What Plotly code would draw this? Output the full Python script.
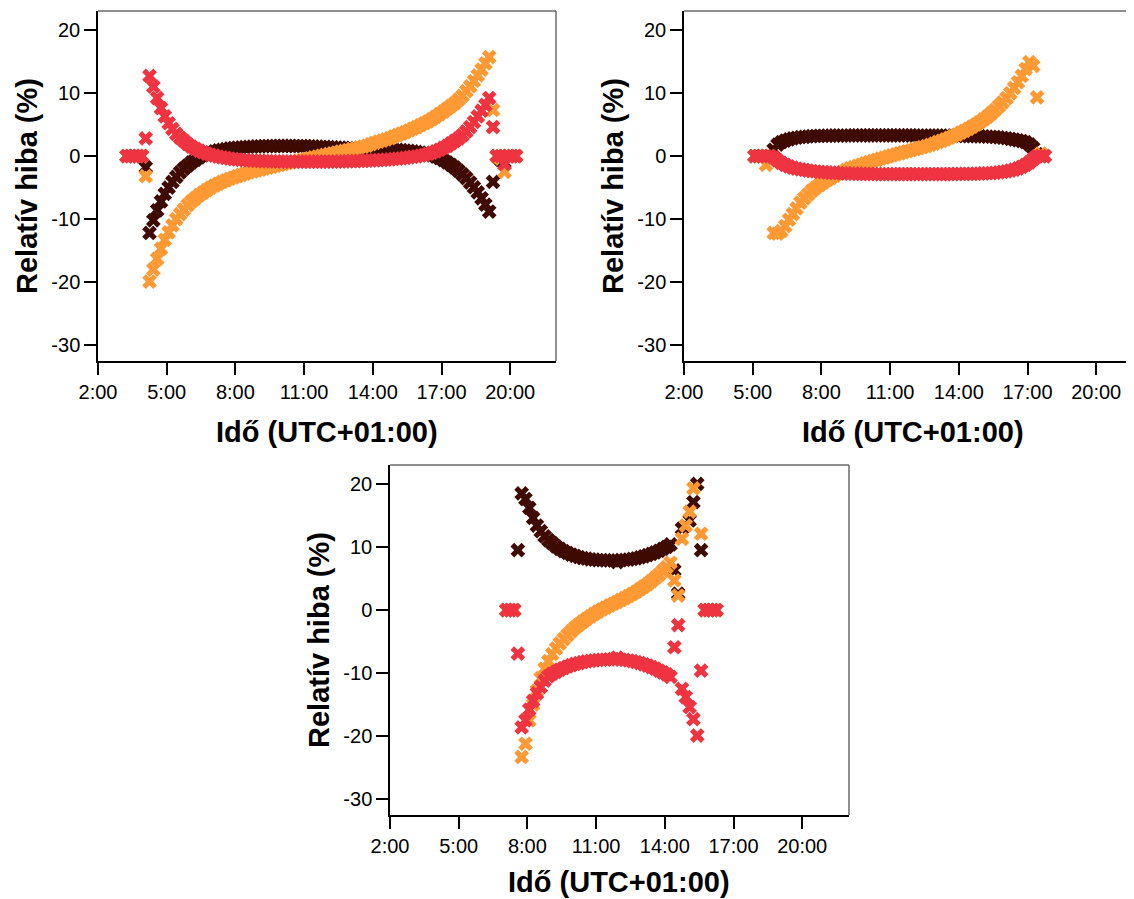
import plotly.graph_objects as go
import pandas as pd

COL_DARK = "#3f0a00"
COL_ORANGE = "#ff9933"
COL_RED = "#ef3340"

# ---------------- top-left panel (10-minute samples from 04:15) ----------------
tl_start = "04:15"
tl_dark = [-12.2, -10.2, -8.6, -7.2, -6.0, -5.0, -4.1, -3.3, -2.6, -2.0,
           -1.5, -1.0, -0.6, -0.2, 0.1, 0.35, 0.55, 0.75, 0.9, 1.0,
           1.1, 1.2, 1.27, 1.33, 1.38, 1.42, 1.46, 1.49, 1.52, 1.54,
           1.56, 1.57, 1.58, 1.59, 1.6, 1.6, 1.6, 1.6, 1.59, 1.58,
           1.57, 1.56, 1.54, 1.52, 1.5, 1.47, 1.44, 1.41, 1.38, 1.35,
           1.32, 1.29, 1.26, 1.23, 1.2, 1.18, 1.16, 1.14, 1.12, 1.1,
           1.08, 1.06, 1.04, 1.02, 1.0, 0.97, 0.93, 0.88, 0.82, 0.75,
           0.66, 0.55, 0.42, 0.27, 0.1, -0.1, -0.35, -0.65, -1.0, -1.4,
           -1.85, -2.35, -2.9, -3.5, -4.2, -4.95, -5.75, -6.7, -7.7, -8.8]
tl_orange = [-19.9, -18.0, -16.3, -14.7, -13.3, -12.1, -11.0, -10.0, -9.2, -8.5,
             -7.8, -7.2, -6.7, -6.2, -5.8, -5.4, -5.0, -4.7, -4.4, -4.1,
             -3.85, -3.6, -3.4, -3.2, -3.0, -2.8, -2.6, -2.45, -2.3, -2.15,
             -2.0, -1.85, -1.7, -1.55, -1.4, -1.27, -1.14, -1.0, -0.87, -0.74,
             -0.61, -0.48, -0.35, -0.22, -0.09, 0.04, 0.17, 0.3, 0.43, 0.56,
             0.69, 0.82, 0.95, 1.08, 1.22, 1.36, 1.5, 1.65, 1.9, 2.1,
             2.3, 2.45, 2.65, 2.85, 3.1, 3.3, 3.55, 3.8, 4.05, 4.35,
             4.6, 4.9, 5.2, 5.5, 5.85, 6.25, 6.65, 7.05, 7.5, 7.95,
             8.4, 8.95, 9.55, 10.3, 11.05, 11.9, 12.8, 13.7, 14.7, 15.7]
tl_red = [12.7, 11.0, 9.2, 7.6, 6.3, 5.2, 4.3, 3.5, 2.9, 2.4,
          1.9, 1.5, 1.15, 0.85, 0.6, 0.4, 0.2, 0.05, -0.1, -0.2,
          -0.3, -0.4, -0.5, -0.55, -0.6, -0.65, -0.7, -0.72, -0.75, -0.78,
          -0.8, -0.82, -0.84, -0.85, -0.86, -0.87, -0.88, -0.88, -0.89, -0.89,
          -0.9, -0.9, -0.9, -0.9, -0.9, -0.9, -0.89, -0.89, -0.88, -0.87,
          -0.86, -0.85, -0.84, -0.82, -0.8, -0.78, -0.75, -0.72, -0.7, -0.67,
          -0.64, -0.6, -0.56, -0.52, -0.47, -0.42, -0.36, -0.3, -0.22, -0.14,
          -0.05, 0.05, 0.2, 0.35, 0.55, 0.75, 1.0, 1.3, 1.6, 2.0,
          2.4, 2.8, 3.3, 3.9, 4.6, 5.4, 6.3, 7.2, 8.1, 9.2]
tl_extra_times = ["03:15", "03:25", "03:35", "03:45", "03:55", "04:05",
                  "19:15", "19:25", "19:35", "19:45", "19:55", "20:05", "20:15"]
tl_extra_dark = [0, 0, 0, 0, 0, -1.8, -4.1, 0, -0.6, -1.0, 0, 0, 0]
tl_extra_orange = [0, 0, 0, 0, 0, -3.2, 7.3, 0, -0.4, -2.5, 0, 0, 0]
tl_extra_red = [0, 0, 0, 0, 0, 2.8, 4.6, 0, 0, -1.3, 0, 0, 0]

# ---------------- top-right panel (10-minute samples from 05:55) ----------------
tr_start = "05:55"
tr_dark = [1.0, 1.8, 2.2, 2.45, 2.65, 2.8, 2.9, 3.0, 3.05, 3.1,
           3.15, 3.18, 3.2, 3.22, 3.23, 3.24, 3.25, 3.25, 3.26, 3.26,
           3.26, 3.27, 3.27, 3.27, 3.27, 3.27, 3.27, 3.27, 3.27, 3.27,
           3.27, 3.27, 3.27, 3.27, 3.27, 3.27, 3.27, 3.26, 3.26, 3.26,
           3.26, 3.25, 3.25, 3.24, 3.24, 3.23, 3.22, 3.21, 3.2, 3.19,
           3.18, 3.17, 3.16, 3.15, 3.13, 3.11, 3.09, 3.06, 3.02, 2.97,
           2.9, 2.82, 2.73, 2.62, 2.5, 2.38, 2.2, 1.85, 1.3]
tr_orange = [-12.2, -12.3, -11.9, -11.1, -10.1, -9.2, -8.3, -7.4, -6.7, -6.1,
             -5.5, -5.0, -4.6, -4.2, -3.8, -3.45, -3.1, -2.8, -2.5, -2.2,
             -1.95, -1.75, -1.55, -1.35, -1.15, -0.95, -0.78, -0.6, -0.42, -0.25,
             -0.08, 0.1, 0.27, 0.44, 0.6, 0.76, 0.92, 1.08, 1.24, 1.4,
             1.58, 1.78, 1.98, 2.2, 2.42, 2.65, 2.9, 3.15, 3.4, 3.7,
             4.0, 4.3, 4.65, 5.0, 5.4, 5.8, 6.25, 6.75, 7.3, 7.9,
             8.5, 9.2, 9.95, 10.8, 11.7, 12.7, 13.8, 14.9, 14.3]
tr_red = [-0.2, -0.7, -1.1, -1.4, -1.65, -1.85, -2.0, -2.1, -2.2, -2.3,
          -2.38, -2.45, -2.5, -2.55, -2.6, -2.64, -2.68, -2.71, -2.74, -2.76,
          -2.78, -2.8, -2.81, -2.82, -2.83, -2.84, -2.85, -2.85, -2.86, -2.86,
          -2.86, -2.86, -2.86, -2.86, -2.86, -2.86, -2.86, -2.86, -2.86, -2.86,
          -2.86, -2.86, -2.86, -2.86, -2.86, -2.86, -2.85, -2.85, -2.84, -2.84,
          -2.83, -2.82, -2.81, -2.8, -2.78, -2.76, -2.73, -2.7, -2.66, -2.6,
          -2.52, -2.42, -2.3, -2.15, -1.95, -1.7, -1.4, -1.0, -0.5]
tr_extra_times = ["05:05", "05:15", "05:25", "05:35", "05:45", "17:25", "17:35", "17:45"]
tr_extra_dark = [0, 0, 0, 0, 0, 0.3, 0, 0]
tr_extra_orange = [0, 0, 0, -1.4, 0, 9.3, 0.4, 0]
tr_extra_red = [0, 0, 0, 0, 0, 0, 0, 0]

# ---------------- bottom panel (10-minute samples from 07:45) ----------------
b_start = "07:45"
b_dark = [18.5, 17.6, 16.2, 14.6, 13.4, 12.5, 11.7, 11.1, 10.6, 10.1,
          9.7, 9.35, 9.05, 8.8, 8.6, 8.4, 8.25, 8.15, 8.05, 7.98,
          7.93, 7.9, 7.88, 7.87, 7.87, 7.6, 7.9, 7.95, 8.0, 8.1,
          8.2, 8.35, 8.5, 8.7, 8.9, 9.15, 9.4, 9.7, 10.0, 10.4]
b_orange = [-23.3, -21.2, -17.5, -15.0, -12.8, -10.8, -9.3, -8.1, -7.0, -6.1,
            -5.3, -4.6, -3.95, -3.35, -2.8, -2.3, -1.85, -1.4, -1.0, -0.6,
            -0.25, 0.1, 0.4, 0.7, 1.0, 1.3, 1.6, 1.9, 2.2, 2.55,
            2.9, 3.3, 3.7, 4.1, 4.6, 5.1, 5.6, 6.2, 6.8, 7.5]
b_red = [-18.6, -17.5, -15.8, -14.4, -13.2, -12.2, -11.2, -10.5, -10.1, -9.8,
         -9.45, -9.2, -8.95, -8.75, -8.55, -8.4, -8.25, -8.15, -8.05, -7.98,
         -7.92, -7.88, -7.85, -7.83, -7.8, -7.55, -7.85, -7.9, -8.0, -8.1,
         -8.25, -8.4, -8.6, -8.8, -9.05, -9.3, -9.6, -9.9, -10.2, -10.6]
b_extra_dark_t = ["07:05", "07:15", "07:25", "07:35", "14:25", "14:35", "14:45",
                  "15:05", "15:15", "15:25", "15:35", "15:45", "15:55", "16:05", "16:15"]
b_extra_dark = [0, 0, 0, 9.5, 6.3, 2.6, 12.9, 14.2, 17.1, 20.0, 9.5, 0, 0, 0, 0]
b_extra_orange_t = ["07:05", "07:15", "07:25", "14:25", "14:35", "14:45", "14:55",
                    "15:05", "15:15", "15:35", "15:45", "15:55", "16:05", "16:15"]
b_extra_orange = [0, 0, 0, 4.7, 2.3, 11.3, 13.4, 15.6, 19.3, 12.1, 0, 0, 0, 0]
b_extra_red_t = ["07:05", "07:15", "07:25", "07:35", "14:25", "14:35", "14:45", "14:55",
                 "15:05", "15:15", "15:25", "15:35", "15:45", "15:55", "16:05", "16:15"]
b_extra_red = [0, 0, 0, -6.9, -5.9, -2.4, -12.5, -13.8, -15.4, -17.3, -19.9, -9.6, 0, 0, 0, 0]

x_tick_hours = [2, 5, 8, 11, 14, 17, 20]
x_tick_text = ["2:00", "5:00", "8:00", "11:00", "14:00", "17:00", "20:00"]
y_tick_vals = [-30, -20, -10, 0, 10, 20]
y_tick_text = ["-30", "-20", "-10", "0", "10", "20"]
x_title = "Idő (UTC+01:00)"
y_title = "Relatív hiba (%)"

DAY = "2000-01-01 "


def series_times(start, n):
    return list(pd.date_range(DAY + start, periods=n, freq="10min"))


def at(lst):
    return list(pd.to_datetime([DAY + s for s in lst]))


def hour(h):
    return pd.Timestamp(DAY) + pd.Timedelta(hours=h)


fig = go.Figure()


def add_panel(xa, ya, start, dark, orange, red, ex_d, ex_o, ex_r):
    t = series_times(start, len(dark))
    for (xe, ye), main, col in ((ex_d, dark, COL_DARK), (ex_o, orange, COL_ORANGE), (ex_r, red, COL_RED)):
        fig.add_trace(go.Scatter(
            x=t + at(xe), y=list(main) + list(ye), mode="markers",
            xaxis=xa, yaxis=ya, showlegend=False, hoverinfo="skip",
            marker=dict(symbol="x", size=13, color=col, line=dict(width=0))))


add_panel("x", "y", tl_start, tl_dark, tl_orange, tl_red,
          (tl_extra_times, tl_extra_dark), (tl_extra_times, tl_extra_orange), (tl_extra_times, tl_extra_red))
add_panel("x2", "y2", tr_start, tr_dark, tr_orange, tr_red,
          (tr_extra_times, tr_extra_dark), (tr_extra_times, tr_extra_orange), (tr_extra_times, tr_extra_red))
add_panel("x3", "y3", b_start, b_dark, b_orange, b_red,
          (b_extra_dark_t, b_extra_dark), (b_extra_orange_t, b_extra_orange), (b_extra_red_t, b_extra_red))

# The page body has an 8px margin: the figure starts 8px in from the page's
# top-left corner, so page positions below are shifted by that margin.
OFF = 8
W, H = 1134 - OFF, 899 - OFF
PXH = 22.9  # pixels per hour on the time axes
FONT = "Liberation Sans, Arial, sans-serif"
panels = {
    # name: (left px, right px, top px, bottom px, x-title gap px) in page pixels
    "1": (98, 556, 11, 361, 71),
    "2": (684, 1134, 11, 361, 71),
    "3": (390, 849, 465, 815, 67),
}

layout = dict(width=W, height=H, margin=dict(l=0, r=0, t=0, b=0, pad=0), autosize=False,
              paper_bgcolor="white", plot_bgcolor="white",
              font=dict(family=FONT, size=20, color="black"), showlegend=False)
shapes = []
annotations = []
for key, (x0, x1, top, bot, gap) in panels.items():
    xn = "xaxis" if key == "1" else "xaxis" + key
    yn = "yaxis" if key == "1" else "yaxis" + key
    anchor_y = "y" if key == "1" else "y" + key
    anchor_x = "x" if key == "1" else "x" + key
    xend = 2 + (x1 - x0) / PXH
    layout[xn] = dict(domain=[(x0 - OFF) / W, min(1.0, (x1 - OFF) / W)], anchor=anchor_y, type="date",
                      range=[hour(2), hour(xend)], automargin=False,
                      tickvals=[hour(h) for h in x_tick_hours], ticktext=x_tick_text,
                      showline=True, linecolor="black", linewidth=1.5,
                      ticks="outside", ticklen=12, tickwidth=1.5, tickcolor="black",
                      showgrid=False, zeroline=False,
                      tickfont=dict(family=FONT, size=20, color="black"))
    layout[yn] = dict(domain=[1 - (bot - OFF) / H, 1 - (top - OFF) / H], anchor=anchor_x,
                      range=[-32.5, 23.0], tickvals=y_tick_vals, ticktext=y_tick_text,
                      automargin=False,
                      showline=True, linecolor="black", linewidth=1.5,
                      ticks="outside", ticklen=12, tickwidth=1.5, tickcolor="black",
                      showgrid=False, zeroline=False,
                      tickfont=dict(family=FONT, size=20, color="black"))
    xref = "x domain" if key == "1" else "x%s domain" % key
    yref = "y domain" if key == "1" else "y%s domain" % key
    shapes.append(dict(type="line", xref=xref, yref=yref, x0=0, x1=1, y0=1, y1=1,
                       line=dict(color="#6a6a6a", width=1.5), layer="below"))
    if key != "2":
        shapes.append(dict(type="line", xref=xref, yref=yref, x0=1, x1=1, y0=0, y1=1,
                           line=dict(color="#6a6a6a", width=1.5), layer="below"))
    xc = x0 + 10 * PXH
    annotations.append(dict(text="<b>%s</b>" % x_title, xref="paper", yref="paper",
                            x=(xc - OFF) / W, y=1 - (bot + gap - OFF) / H, showarrow=False,
                            xanchor="center", yanchor="middle",
                            font=dict(family=FONT, size=29, color="black")))
    annotations.append(dict(text="<b>%s</b>" % y_title, xref="paper", yref="paper",
                            x=(x0 - 71 - OFF) / W, y=1 - ((top + bot) / 2 - OFF) / H, showarrow=False,
                            textangle=-90, xanchor="center", yanchor="middle",
                            font=dict(family=FONT, size=29, color="black")))

layout["shapes"] = shapes
layout["annotations"] = annotations
fig.update_layout(**layout)
fig.write_html("out.html")
